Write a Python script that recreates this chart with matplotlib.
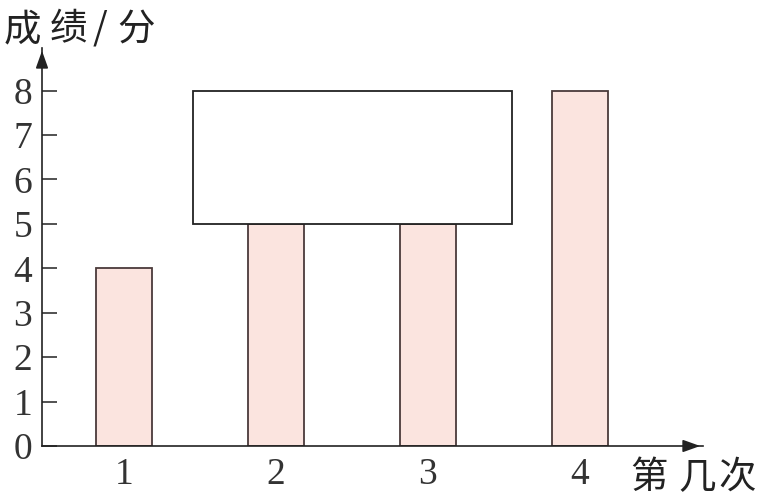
import matplotlib.pyplot as plt
from matplotlib.patches import Rectangle

plt.rcParams['font.family'] = ['Liberation Serif', 'Noto Sans CJK SC', 'DejaVu Sans']

# Data
attempts = [1, 2, 3, 4]
scores = [4, 5, 5, 8]
y_ticks = [0, 1, 2, 3, 4, 5, 6, 7, 8]
x_label = '第几次'
y_label = '成绩/分'

# Covering box (hides part of bar 2 and 3)
box_x = (1.454, 3.553)
box_y = (5, 8)

BAR_COLOR = '#fbe4df'
EDGE_COLOR = '#4a3a3a'
INK = '#222222'

fig = plt.figure(figsize=(7.58, 4.97), dpi=100)
ax = fig.add_axes([42 / 758, 51 / 497, (703 - 42) / 758, (446 - 48) / 497])

ax.bar(attempts, scores, width=0.368, color=BAR_COLOR, edgecolor=EDGE_COLOR, linewidth=1.3, zorder=2)
ax.add_patch(Rectangle((box_x[0], box_y[0]), box_x[1] - box_x[0], box_y[1] - box_y[0],
                       facecolor='white', edgecolor=INK, linewidth=1.3, zorder=3))

ax.set_xlim(0.46, 4.81)
ax.set_ylim(0, 8.96)

for side in ['top', 'right']:
    ax.spines[side].set_visible(False)
for side in ['left', 'bottom']:
    ax.spines[side].set_linewidth(1.2)
    ax.spines[side].set_color(INK)

ax.set_yticks(y_ticks)
ax.set_xticks(attempts)
ax.tick_params(axis='y', direction='in', length=11, width=1.2, pad=7, labelsize=27, colors='#333333')
ax.tick_params(axis='x', length=0, pad=8, labelsize=27, colors='#333333')

# Axis arrows
arrow_style = dict(arrowstyle='-|>,head_length=0.7,head_width=0.25', color=INK, lw=1.2, mutation_scale=15)
ax.annotate('', xy=(0, 1.0), xytext=(0, 0.96), xycoords='axes fraction', arrowprops=arrow_style)
ax.annotate('', xy=(1.0, 0), xytext=(0.97, 0), xycoords='axes fraction', arrowprops=arrow_style)


def spaced_label(text, x_starts, baseline):
    # Draw each character on its own so the wide letter spacing of the original is kept
    for ch, x in zip(text, x_starts):
        fig.text(x / 758, 1 - baseline / 497, ch, fontsize=27, family=['Noto Sans CJK SC'],
                 color=INK, va='baseline', ha='left')


spaced_label(y_label, [4, 50, 93, 117], 40)
spaced_label(x_label, [630, 678, 718], 488)

fig.savefig('out.png', dpi=100)
